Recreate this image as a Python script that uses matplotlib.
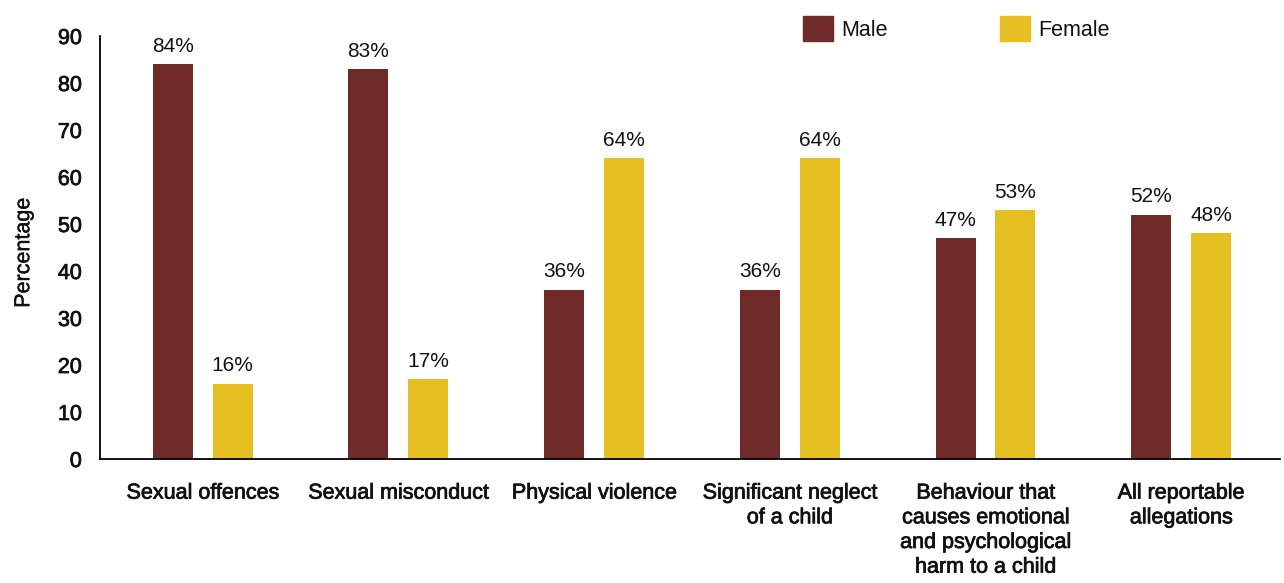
import matplotlib
matplotlib.use("Agg")
import matplotlib.pyplot as plt
import matplotlib.patheffects as pe
from matplotlib.patches import Patch
import numpy as np

categories = [
    "Sexual offences",
    "Sexual misconduct",
    "Physical violence",
    "Significant neglect\nof a child",
    "Behaviour that\ncauses emotional\nand psychological\nharm to a child",
    "All reportable\nallegations",
]
male = [84, 83, 36, 36, 47, 52]
female = [16, 17, 64, 64, 53, 48]
series_names = ["Male", "Female"]
yticks = [0, 10, 20, 30, 40, 50, 60, 70, 80, 90]

male_color = "#6E2B27"
female_color = "#E6BF22"
text_color = "#111111"

plt.rcParams["font.family"] = ["Liberation Sans", "DejaVu Sans"]
# a thin outline gives the regular face a medium weight
medium = [pe.withStroke(linewidth=0.55, foreground=text_color)]

fig = plt.figure(figsize=(12.84, 5.83), dpi=100)
ax = fig.add_axes([100 / 1284, 1 - 459 / 583, 1180 / 1284, 423 / 583])

x = np.arange(len(categories))
w = 0.2045
off = 0.153
bm = ax.bar(x - off, male, width=w, color=male_color)
bf = ax.bar(x + off, female, width=w, color=female_color)

for bars, vals in ((bm, male), (bf, female)):
    for b, v in zip(bars, vals):
        ax.annotate(f"{v}%", (b.get_x() + b.get_width() / 2, v),
                    xytext=(0, 6), textcoords="offset points",
                    ha="center", va="bottom", fontsize=15, color=text_color)

ax.set_xlim(-0.525, 5.505)
ax.set_ylim(0, 90)
ax.set_yticks(yticks)
ax.set_xticks(x)
ax.set_xticklabels(categories, fontsize=15.5, linespacing=1.23)
for lab in ax.get_xticklabels():
    lab.set_path_effects(medium)
for lab in ax.get_yticklabels():
    lab.set_fontsize(15.5)
    lab.set_path_effects(medium)
ax.tick_params(axis="both", length=0, colors=text_color)
ax.tick_params(axis="x", pad=17)
ax.tick_params(axis="y", pad=13)

for s in ("top", "right"):
    ax.spines[s].set_visible(False)
ax.spines["left"].set_linewidth(1.3)
ax.spines["bottom"].set_linewidth(1.3)

ylab = ax.set_ylabel("Percentage", fontsize=15.5, labelpad=17, color=text_color)
ylab.set_y(0.487)
ylab.set_path_effects([pe.withStroke(linewidth=0.3, foreground=text_color)])

handles = [Patch(color=male_color), Patch(color=female_color)]
leg = fig.legend(handles, series_names, loc="upper left",
                 bbox_to_anchor=(784 / 1284, 1.005), ncol=2, frameon=False,
                 fontsize=15.5, handlelength=1.38, handleheight=1.38,
                 handletextpad=0.38, columnspacing=5.23, borderaxespad=0.5)
for t in leg.get_texts():
    t.set_color(text_color)

fig.savefig("out.png", dpi=100)
